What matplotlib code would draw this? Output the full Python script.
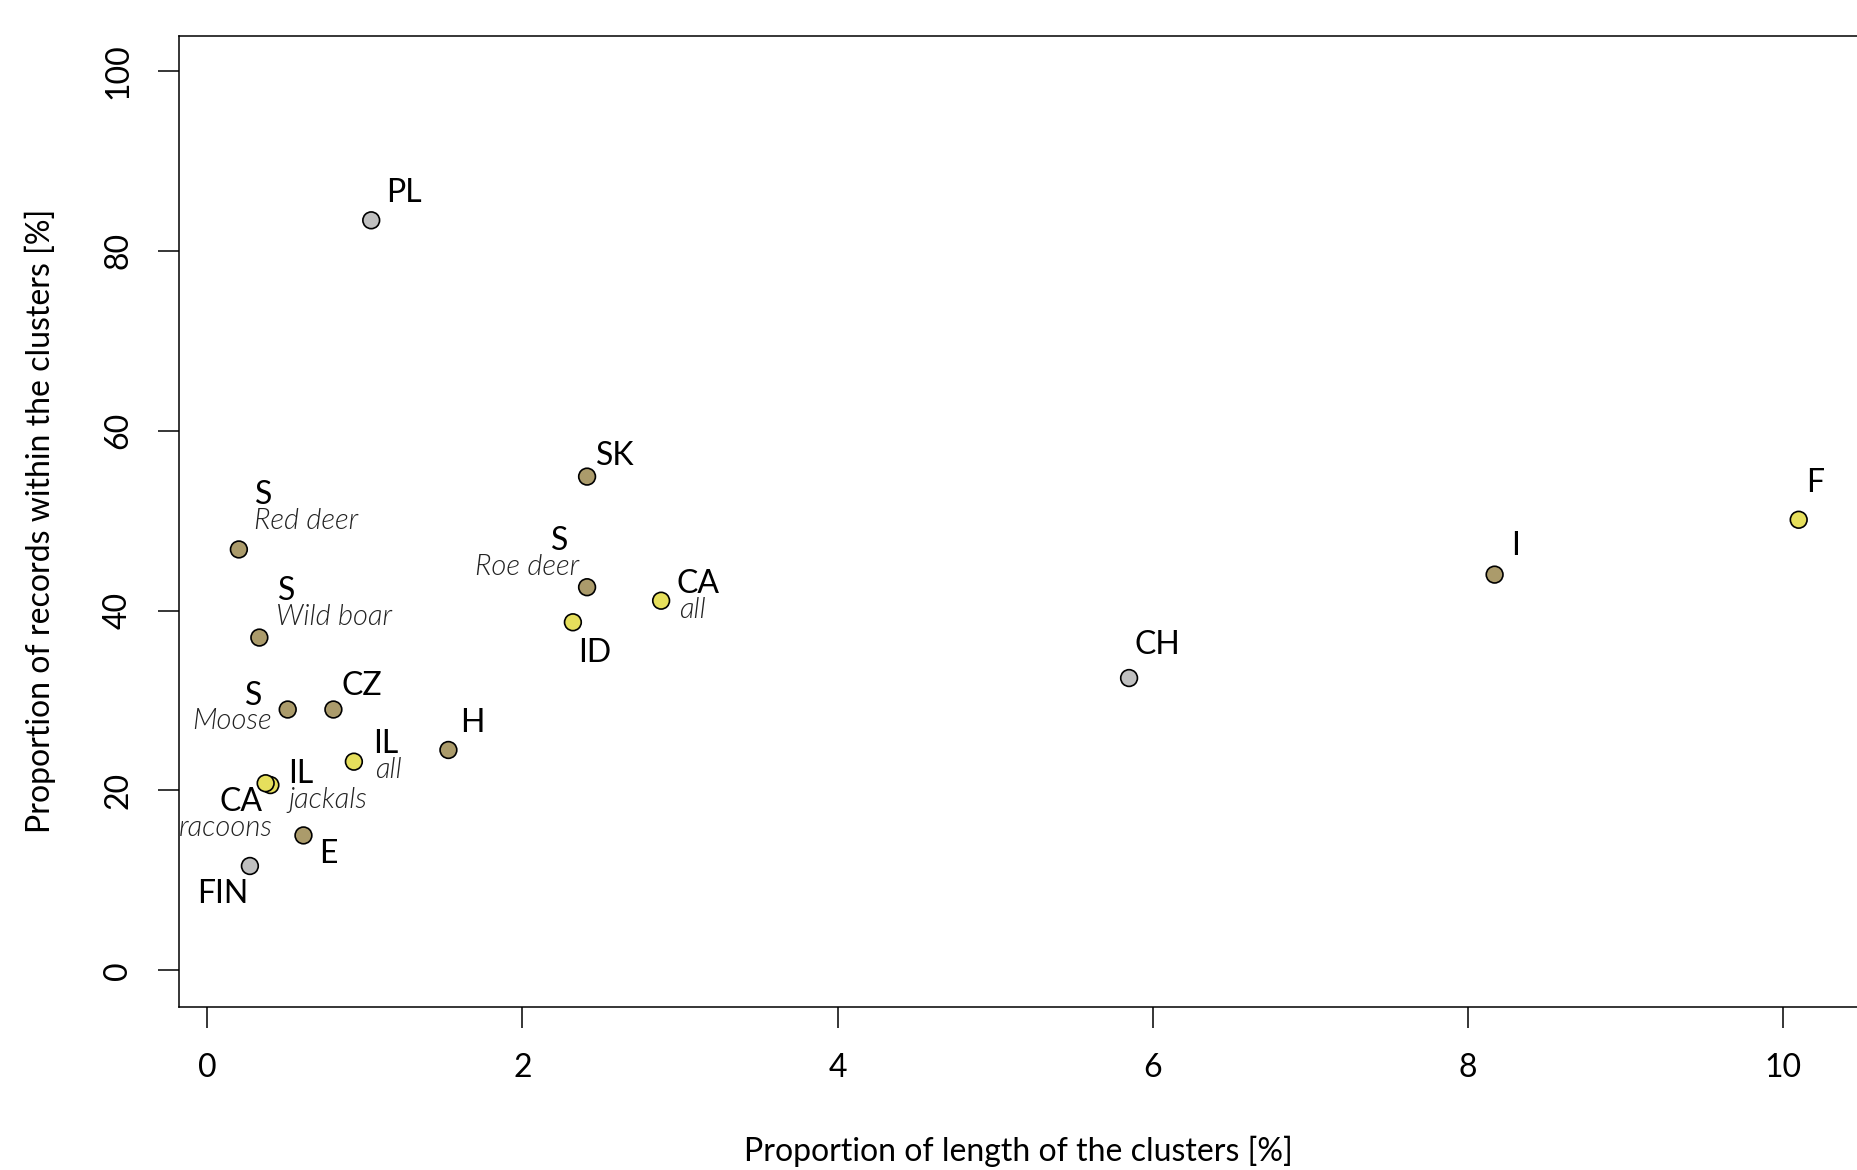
import matplotlib.pyplot as plt

plt.rcParams["font.family"] = ["Lato", "DejaVu Sans"]

# cluster summary per dataset
labels = ["PL", "SK", "S", "S", "CA", "ID", "S", "CH", "I", "F",
          "S", "CZ", "H", "IL", "IL", "CA", "E", "FIN"]
sublabels = ["", "", "Red deer", "Roe deer", "all", "", "Wild boar", "", "", "",
             "Moose", "", "", "all", "jackals", "racoons", "", ""]
length_pct = [1.04, 2.41, 0.20, 2.41, 2.88, 2.32, 0.33, 5.85, 8.17, 10.10,
              0.51, 0.80, 1.53, 0.93, 0.40, 0.37, 0.61, 0.27]
records_pct = [83.4, 54.9, 46.8, 42.6, 41.1, 38.7, 37.0, 32.5, 44.0, 50.1,
               29.0, 29.0, 24.5, 23.2, 20.6, 20.8, 15.0, 11.6]
group = ["grey", "tan", "tan", "tan", "yellow", "yellow", "tan", "grey", "tan", "yellow",
         "tan", "tan", "tan", "yellow", "yellow", "yellow", "tan", "grey"]

COLORS = {"grey": "#c0c0c0", "tan": "#ab9b6b", "yellow": "#e6df5c"}

# label offsets (pixels, x right / y down) for the main and italic text
main_off = [(28, -23), (24, -17), (21, -46), (-23, -39), (31, -14), (18, 26), (23, -39),
            (24, -28), (18, -24), (14, -31), (-29, -11), (24, -20), (20, -23), (27, -15),
            (26, -9), (-21, 16), (21, 16), (-23, 24)]
sub_off = [None, None, (57, -24), (-51, -17), (26, 8), None, (63, -17), None, None, None,
           (-47, 10), None, None, (29, 7), (49, 13), (-34, 38), None, None]

SCALE = 1857 / 1568

fig = plt.figure(figsize=(18.57, 11.70), dpi=100)
ax = fig.add_axes([179 / 1857, 1 - 1007 / 1170, 1 - 179 / 1857, (1007 - 35.5) / 1170])

ax.scatter(length_pct, records_pct, s=145,
           c=[COLORS[g] for g in group], edgecolors="black", linewidths=1.2, zorder=3)

for i, lab in enumerate(labels):
    dx, dy = main_off[i]
    ax.annotate(lab, (length_pct[i], records_pct[i]), xytext=(dx * SCALE, -dy * SCALE),
                textcoords="offset pixels", ha="center", va="center", fontsize=23, color="black")
    if sub_off[i] is not None:
        sx, sy = sub_off[i]
        ax.annotate(sublabels[i], (length_pct[i], records_pct[i]), xytext=(sx * SCALE, -sy * SCALE),
                    textcoords="offset pixels", ha="center", va="center", fontsize=21,
                    style="italic", fontweight=300, color="#222222")

ax.set_xlim(-0.18, 10.47)
ax.set_ylim(-4.08, 103.95)
ax.spines["right"].set_visible(False)
for side in ["top", "left", "bottom"]:
    ax.spines[side].set_linewidth(1.1)

ax.set_xticks([0, 2, 4, 6, 8, 10])
ax.set_yticks([0, 20, 40, 60, 80, 100])
ax.tick_params(axis="both", direction="out", length=15, width=1.1, labelsize=23, pad=18)
for t in ax.get_yticklabels():
    t.set_rotation(90)
    t.set_va("center")

ax.set_xlabel("Proportion of length of the clusters [%]", fontsize=23, labelpad=38)
ax.set_ylabel("Proportion of records within the clusters [%]", fontsize=23, labelpad=34)

fig.savefig("out.png", dpi=100)
